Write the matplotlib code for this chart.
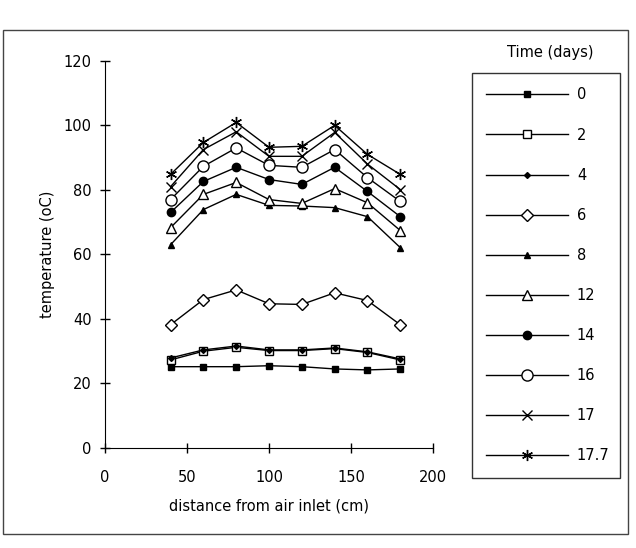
import numpy as np
import matplotlib
matplotlib.use('Agg')
import matplotlib.pyplot as plt
from matplotlib.patches import Rectangle

# distance from air inlet (cm)
distance = [40, 60, 80, 100, 120, 140, 160, 180]

# temperature (oC) per day
t_0 = [25.2, 25.2, 25.2, 25.5, 25.2, 24.5, 24.2, 24.5]
t_2 = [27.3, 30.0, 31.2, 30.2, 30.2, 30.8, 29.6, 27.3]
t_4 = [27.9, 30.4, 31.6, 30.4, 30.4, 31.0, 29.8, 27.6]
t_6 = [38.2, 46.0, 49.0, 44.7, 44.5, 48.1, 45.7, 38.2]
t_8 = [63.0, 73.9, 78.6, 75.2, 75.0, 74.5, 71.7, 62.1]
t_12 = [68.3, 78.6, 82.3, 77.0, 75.8, 80.4, 76.0, 67.4]
t_14 = [73.0, 82.6, 87.0, 83.2, 81.7, 87.0, 79.5, 71.7]
t_16 = [77.0, 87.3, 93.0, 87.6, 87.0, 92.5, 83.8, 76.4]
t_17 = [81.0, 92.5, 98.0, 90.4, 90.4, 97.8, 88.0, 80.1]
t_17_7 = [84.8, 94.7, 100.9, 93.2, 93.5, 100.0, 91.0, 84.8]

day_labels = ['0', '2', '4', '6', '8', '12', '14', '16', '17', '17.7']
series = [t_0, t_2, t_4, t_6, t_8, t_12, t_14, t_16, t_17, t_17_7]

# marker, size, filled
styles = [('s', 5, True), ('s', 6, False), ('D', 3, True), ('D', 6, False),
          ('^', 5, True), ('^', 7, False), ('o', 6, True), ('o', 8, False),
          ('x', 7, True), ((6, 2, 0), 8, True)]

plt.rcParams['font.family'] = ['DejaVu Sans']

fig = plt.figure(figsize=(6.36, 5.48), dpi=100)
ax = fig.add_axes([0.165, 0.1825, 0.516, 0.7065])

handles = []
for vals, (mk, ms, filled) in zip(series, styles):
    h, = ax.plot(distance, vals, color='black', lw=1.0, marker=mk, markersize=ms,
                 markerfacecolor='black' if filled else 'white',
                 markeredgecolor='black', markeredgewidth=1.0)
    handles.append(h)

ax.set_xlim(0, 200)
ax.set_ylim(0, 120)
ax.set_xticks([0, 50, 100, 150, 200])
ax.set_yticks([0, 20, 40, 60, 80, 100, 120])
ax.spines['top'].set_visible(False)
ax.spines['right'].set_visible(False)
ax.tick_params(direction='inout', length=7, width=1, labelsize=10.5)
ax.tick_params(axis='x', pad=12)
ax.tick_params(axis='y', pad=6)
ax.set_xlabel('distance from air inlet (cm)', fontsize=10.5, labelpad=10)
ax.set_ylabel('temperature (oC)', fontsize=10.5, labelpad=6)

leg = fig.legend(handles, day_labels, loc='upper left',
                 bbox_to_anchor=(0.742, 0.867, 0.233, 0.0),
                 mode='expand', frameon=True, fancybox=False,
                 edgecolor='black', fontsize=10.5, handlelength=5.6,
                 labelspacing=1.72, borderpad=1.0, handletextpad=0.6,
                 borderaxespad=0.0)
leg.get_frame().set_linewidth(1.0)

fig.text(0.865, 0.905, 'Time (days)', ha='center', va='center', fontsize=10.5)

# outer frame of the scanned figure
fig.patches.append(Rectangle((0.004, 0.025), 0.984, 0.92, transform=fig.transFigure,
                             fill=False, edgecolor='#444444', lw=1.0))

fig.savefig('out.png', dpi=100)
